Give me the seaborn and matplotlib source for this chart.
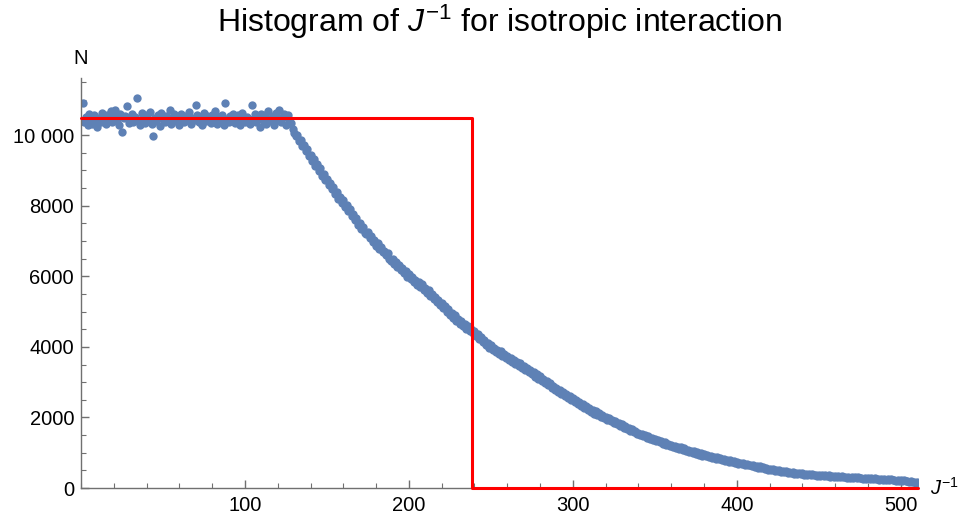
import numpy as np
import pandas as pd
import matplotlib
matplotlib.use("Agg")
import matplotlib.pyplot as plt
from matplotlib.ticker import MultipleLocator, FixedLocator
import seaborn as sns

# Histogram counts per bin of J^-1 (bins 1..510)
counts_plateau = [
    10920, 10380, 10520, 10290, 10610, 10450, 10330, 10560, 10410, 10240,
    10500, 10370, 10640, 10420, 10310, 10580, 10470, 10680, 10360, 10530,
    10720, 10400, 10290, 10610, 10080, 10480, 10550, 10820, 10340, 10460,
    10590, 10380, 10510, 11050, 10420, 10280, 10630, 10470, 10350, 10560,
    10440, 10660, 10320, 9970, 10500, 10390, 10580, 10270, 10620, 10450,
    10360, 10540, 10480, 10700, 10310, 10430, 10590, 10400, 10520, 10290,
    10610, 10470, 10380, 10550, 10440, 10670, 10330, 10500, 10420, 10850,
    10560, 10370, 10490, 10300, 10620, 10410, 10530, 10460, 10350, 10580,
    10440, 10690, 10320, 10510, 10400, 10570, 10280, 10900, 10460, 10370,
    10530, 10420, 10610, 10340, 10480, 10560, 10290, 10640, 10450, 10380,
    10520, 10410, 10330, 10850, 10470, 10590, 10360, 10500, 10230, 10610,
    10440, 10560, 10310, 10680, 10470, 10390, 10540, 10280, 10620, 10450,
    10720, 10380, 10510, 10600, 10290, 10560, 10430, 10350,
]
counts_decline = [
    10180, 10060,
    9990, 10010, 9840, 9870, 9690, 9720, 9560, 9610, 9400, 9430,
    9260, 9330, 9120, 9170, 8990, 9060, 8850, 8900, 8720, 8760,
    8580, 8650, 8470, 8520, 8330, 8380, 8200, 8260, 8090, 8150,
    7960, 8010, 7840, 7900, 7700, 7760, 7590, 7650, 7460, 7520,
    7340, 7410, 7230, 7190, 7250, 7080, 7140, 6970, 7020, 6860,
    6930, 6780, 6840, 6680, 6720, 6590, 6650, 6480, 6430, 6500,
    6350, 6410, 6260, 6320, 6170, 6230, 6090, 6150, 5990, 6060,
    5920, 5980, 5840, 5900, 5760, 5830, 5700, 5770, 5610, 5680,
    5540, 5600, 5450, 5510, 5360, 5420, 5270, 5330, 5180, 5240,
    5090, 5150, 5000, 5060, 4910, 4970, 4820, 4890, 4740, 4790,
    4660, 4720, 4590, 4650, 4520, 4590, 4450, 4520, 4380, 4450,
    4310, 4370, 4230, 4290, 4150, 4200, 4060, 4120, 3980, 4040,
    3910, 3980, 3850, 3920, 3790, 3870, 3740, 3810, 3680, 3750,
    3620, 3690, 3570, 3640, 3510, 3580, 3460, 3530, 3400, 3470,
    3340, 3410, 3290, 3340, 3220, 3290, 3160, 3230, 3100, 3170,
    3040, 3100, 2970, 3030, 2910, 2970, 2840, 2900, 2780, 2830,
    2720, 2770, 2660, 2710, 2600, 2660, 2550, 2600, 2490, 2540,
    2430, 2480, 2380, 2430, 2320, 2370, 2270, 2310, 2210, 2260,
    2160, 2210, 2110, 2170, 2070, 2120, 2020, 2070, 1980, 2020,
    1930, 1980, 1890, 1940, 1840, 1890, 1800, 1850, 1760, 1800,
    1710, 1760, 1670, 1710, 1620, 1670, 1580, 1620, 1530, 1570,
    1490, 1540, 1460, 1500, 1430, 1470, 1390, 1430, 1360, 1400,
    1320, 1370, 1290, 1330, 1260, 1300, 1220, 1260, 1190, 1230,
    1160, 1200, 1130, 1170, 1100, 1150, 1070, 1120, 1040, 1090,
    1020, 1060, 990, 1040, 970, 1010, 940, 990, 920, 950,
    900, 930, 880, 910, 850, 880, 830, 870, 810, 840,
    790, 820, 770, 800, 750, 780, 730, 760, 710, 740,
    690, 720, 670, 700, 650, 680, 640, 660, 620, 650,
    600, 630, 580, 610, 560, 590, 540, 570, 520, 550,
    510, 530, 490, 520, 470, 500, 460, 480, 440, 470,
    430, 455, 420, 445, 410, 435, 400, 425, 390, 415,
    380, 405, 375, 400, 365, 390, 360, 380, 350, 375,
    345, 365, 340, 360, 330, 355, 325, 350, 320, 345,
    315, 335, 310, 330, 300, 325, 295, 320, 290, 315,
    285, 305, 280, 300, 270, 295, 265, 290, 260, 285,
    255, 275, 250, 270, 245, 265, 240, 260, 235, 255,
    230, 250, 225, 245, 215, 235, 210, 230, 200, 220,
    195, 215, 185, 205, 175, 190, 165, 180, 155, 170,
]
counts = counts_plateau + counts_decline
bins = list(range(1, len(counts) + 1))

# Idealised step distribution
step_x = [0, 238.5, 238.5, 510.5]
step_y = [10480, 10480, 0, 0]

x_major = [100, 200, 300, 400, 500]
y_major = [0, 2000, 4000, 6000, 8000, 10000]
y_labels = ["0", "2000", "4000", "6000", "8000", "10 000"]

sns.set_style("ticks")
plt.rcParams["font.family"] = ["Liberation Sans", "DejaVu Sans"]
plt.rcParams["mathtext.fontset"] = "custom"
plt.rcParams["mathtext.rm"] = "Liberation Sans"
plt.rcParams["mathtext.it"] = "Liberation Sans:italic"
plt.rcParams["text.color"] = "black"

fig = plt.figure(figsize=(9.64, 5.23), dpi=100)
ax = fig.add_axes([81 / 964, 35 / 523, (918 - 81) / 964, (488 - 78) / 523])

df = pd.DataFrame({"bin": bins, "count": counts})
sns.scatterplot(data=df, x="bin", y="count", ax=ax, color="#5E81B5",
                s=36, linewidth=0, alpha=1.0, zorder=2)
sns.lineplot(x=step_x, y=step_y, ax=ax, sort=False, estimator=None,
             color="#FF0000", linewidth=2.2, zorder=3, clip_on=False)

ax.set_xlim(0, 510.5)
ax.set_ylim(0, 11620)
ax.set_xlabel("")
ax.set_ylabel("")

axis_grey = "#707070"
for side in ("top", "right"):
    ax.spines[side].set_visible(False)
for side in ("left", "bottom"):
    ax.spines[side].set_color(axis_grey)
    ax.spines[side].set_linewidth(1.0)

ax.xaxis.set_major_locator(FixedLocator(x_major))
ax.xaxis.set_minor_locator(MultipleLocator(20))
ax.yaxis.set_major_locator(FixedLocator(y_major))
ax.set_yticklabels(y_labels)
ax.yaxis.set_minor_locator(MultipleLocator(500))
ax.tick_params(which="both", direction="in", colors=axis_grey,
               labelcolor="black", labelsize=14.5)
ax.tick_params(which="major", length=5.5, width=1.0)
ax.tick_params(which="minor", length=3.5, width=0.8)
ax.tick_params(axis="y", which="major", pad=5)
ax.tick_params(axis="x", which="major", pad=6)

ax.text(0, 11900, "N", ha="center", va="bottom", fontsize=14.5, color="black")
ax.text(518, 0, r"$J^{-1}$", ha="left", va="center", fontsize=14.5, color="black")
fig.suptitle(r"Histogram of $J^{-1}$ for isotropic interaction",
             x=(81 + 918) / 2 / 964, y=1 - 3 / 523, va="top", fontsize=23,
             color="black")

fig.savefig("out.png", dpi=100)
